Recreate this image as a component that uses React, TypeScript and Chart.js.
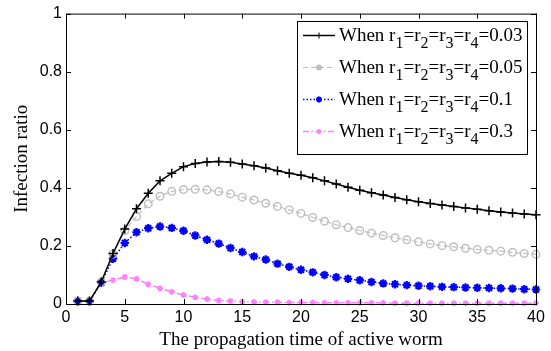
import React, { useEffect, useRef } from "react";
import { Chart, registerables } from "chart.js";

Chart.register(...registerables);

const times = [1, 2, 3, 4, 5, 6, 7, 8, 9, 10, 11, 12, 13, 14, 15, 16, 17, 18, 19, 20, 21, 22, 23, 24, 25, 26, 27, 28, 29, 30, 31, 32, 33, 34, 35, 36, 37, 38, 39, 40];

const r003 = [0.01, 0.01, 0.076, 0.174, 0.258, 0.328, 0.381, 0.424, 0.45, 0.473, 0.484, 0.489, 0.491, 0.488, 0.482, 0.476, 0.468, 0.459, 0.45, 0.443, 0.435, 0.424, 0.413, 0.402, 0.392, 0.383, 0.375, 0.367, 0.359, 0.352, 0.346, 0.341, 0.336, 0.331, 0.326, 0.321, 0.317, 0.313, 0.31, 0.307];
const r005 = [0.01, 0.01, 0.076, 0.172, 0.252, 0.301, 0.345, 0.371, 0.388, 0.394, 0.395, 0.393, 0.387, 0.379, 0.368, 0.358, 0.347, 0.336, 0.324, 0.312, 0.298, 0.285, 0.273, 0.263, 0.253, 0.244, 0.236, 0.228, 0.221, 0.214, 0.207, 0.201, 0.197, 0.192, 0.188, 0.185, 0.182, 0.178, 0.174, 0.171];
const r01 = [0.01, 0.01, 0.073, 0.156, 0.21, 0.247, 0.261, 0.267, 0.262, 0.252, 0.236, 0.221, 0.208, 0.193, 0.179, 0.164, 0.153, 0.139, 0.128, 0.118, 0.109, 0.1, 0.092, 0.087, 0.082, 0.076, 0.071, 0.068, 0.065, 0.063, 0.061, 0.059, 0.058, 0.057, 0.056, 0.055, 0.054, 0.053, 0.051, 0.05];
const r03 = [0.01, 0.01, 0.073, 0.082, 0.093, 0.087, 0.068, 0.054, 0.042, 0.031, 0.023, 0.017, 0.012, 0.01, 0.008, 0.007, 0.006, 0.006, 0.005, 0.005, 0.005, 0.004, 0.004, 0.004, 0.004, 0.004, 0.004, 0.003, 0.003, 0.003, 0.003, 0.003, 0.003, 0.003, 0.003, 0.003, 0.003, 0.003, 0.003, 0.003];

const legendValues = ["0.03", "0.05", "0.1", "0.3"];
const xTitle = "The propagation time of active worm";
const yTitle = "Infection ratio";
const xTicks = [0, 5, 10, 15, 20, 25, 30, 35, 40];
const yTicks = [0, 0.2, 0.4, 0.6, 0.8, 1];

const SERIF = "'Liberation Serif', 'Times New Roman', serif";
const SANS = "'Liberation Sans', Arial, sans-serif";

const styles = [
  { color: "#000000", dash: [] as number[], point: "cross", radius: 4.5, bw: 1.5, lw: 1.5, fill: "#000000" },
  { color: "#bebebe", dash: [5, 3], point: "circle", radius: 3.8, bw: 1.4, lw: 1.2, fill: "transparent" },
  { color: "#0000ff", dash: [1.5, 2], point: "star", radius: 4.2, bw: 2.2, lw: 1.5, fill: "#0000ff" },
  { color: "#ff80ff", dash: [6, 2.5, 1.5, 2.5], point: "star", radius: 3, bw: 1.5, lw: 1.5, fill: "#ff80ff" },
];

const seriesList = [r003, r005, r01, r03];

const framePlugin = {
  id: "frame",
  afterDatasetsDraw(chart: any) {
    const { ctx, chartArea, scales } = chart;
    const { left, right, top, bottom } = chartArea;
    ctx.save();
    ctx.strokeStyle = "#000";
    ctx.lineWidth = 1;
    ctx.setLineDash([]);
    ctx.strokeRect(left + 0.5, top + 0.5, right - left, bottom - top);
    const tl = 5;
    ctx.beginPath();
    xTicks.forEach((v) => {
      const px = Math.round(scales.x.getPixelForValue(v)) + 0.5;
      ctx.moveTo(px, bottom);
      ctx.lineTo(px, bottom - tl);
      ctx.moveTo(px, top);
      ctx.lineTo(px, top + tl);
    });
    yTicks.forEach((v) => {
      const py = Math.round(scales.y.getPixelForValue(v)) + 0.5;
      ctx.moveTo(left, py);
      ctx.lineTo(left + tl, py);
      ctx.moveTo(right, py);
      ctx.lineTo(right - tl, py);
    });
    ctx.stroke();
    ctx.restore();
  },
};

function drawMarker(ctx: CanvasRenderingContext2D, st: any, x: number, y: number, i: number) {
  ctx.save();
  ctx.setLineDash([]);
  ctx.strokeStyle = st.color;
  ctx.fillStyle = st.color;
  if (i === 0) {
    ctx.lineWidth = 1;
    ctx.beginPath();
    ctx.moveTo(x - 3, y);
    ctx.lineTo(x + 3, y);
    ctx.moveTo(x, y - 3);
    ctx.lineTo(x, y + 3);
    ctx.stroke();
  } else if (i === 1) {
    ctx.beginPath();
    ctx.arc(x, y, 3, 0, Math.PI * 2);
    ctx.fill();
  } else {
    ctx.lineWidth = i === 2 ? 2 : 1.5;
    const r = i === 2 ? 3 : 2.5;
    ctx.beginPath();
    for (let k = 0; k < 4; k++) {
      const a = (k * Math.PI) / 4;
      ctx.moveTo(x - Math.cos(a) * r, y - Math.sin(a) * r);
      ctx.lineTo(x + Math.cos(a) * r, y + Math.sin(a) * r);
    }
    ctx.stroke();
  }
  ctx.restore();
}

const legendPlugin = {
  id: "customLegend",
  afterDraw(chart: any) {
    const { ctx } = chart;
    const bx = 297, by = 21, bw = 230, bh = 133;
    ctx.save();
    ctx.fillStyle = "#fff";
    ctx.fillRect(bx, by, bw, bh);
    ctx.strokeStyle = "#000";
    ctx.lineWidth = 1;
    ctx.setLineDash([]);
    ctx.strokeRect(bx + 0.5, by + 0.5, bw, bh);
    const rowY = [35, 67, 99, 131];
    legendValues.forEach((val, i) => {
      const st = styles[i];
      const y = rowY[i];
      ctx.save();
      ctx.strokeStyle = st.color;
      ctx.lineWidth = st.lw;
      ctx.setLineDash(st.dash);
      ctx.beginPath();
      ctx.moveTo(303, y + 0.5);
      ctx.lineTo(335, y + 0.5);
      ctx.stroke();
      ctx.restore();
      drawMarker(ctx, st, 319, y + 0.5, i);
      let x = 339;
      ctx.fillStyle = "#000";
      ctx.textBaseline = "alphabetic";
      ctx.textAlign = "left";
      const mainFont = "19px " + SERIF;
      const subFont = "16px " + SERIF;
      const base = y + 6;
      const parts: [string, boolean][] = [
        ["When r", false], ["1", true], ["=r", false], ["2", true], ["=r", false], ["3", true], ["=r", false], ["4", true], ["=" + val, false],
      ];
      parts.forEach(([t, sub]) => {
        ctx.font = sub ? subFont : mainFont;
        ctx.fillText(t, x, sub ? base + 7 : base);
        x += ctx.measureText(t).width;
      });
    });
    ctx.restore();
  },
};

export default function App() {
  const ref = useRef<HTMLCanvasElement>(null);
  useEffect(() => {
    document.body.style.margin = "0";
    const canvas = ref.current!;
    const chart = new Chart(canvas, {
      type: "line",
      data: {
        datasets: seriesList.map((s, i) => ({
          label: "When r1=r2=r3=r4=" + legendValues[i],
          data: times.map((t, k) => ({ x: t, y: s[k] })),
          borderColor: styles[i].color,
          backgroundColor: styles[i].fill,
          borderWidth: styles[i].lw,
          borderDash: styles[i].dash,
          pointStyle: styles[i].point as any,
          pointRadius: styles[i].radius,
          pointBorderWidth: styles[i].bw,
          pointBorderColor: styles[i].color,
          pointBackgroundColor: styles[i].fill,
          tension: 0,
          clip: 8,
        })),
      },
      options: {
        animation: false,
        responsive: false,
        maintainAspectRatio: false,
        layout: { padding: { top: 12, right: 15, left: 0, bottom: 0 } },
        plugins: { legend: { display: false }, tooltip: { enabled: false } },
        scales: {
          x: {
            type: "linear",
            min: 0,
            max: 40,
            afterFit: (s: any) => { s.height = 47; },
            afterBuildTicks: (s: any) => { s.ticks = xTicks.map((v) => ({ value: v })); },
            grid: { display: false, drawTicks: false },
            border: { display: false },
            ticks: { color: "#000", font: { family: SANS, size: 16 }, padding: 4, maxRotation: 0 },
            title: { display: true, text: xTitle, color: "#000", font: { family: SERIF, size: 19 }, padding: { top: 1, bottom: 0 } },
          },
          y: {
            type: "linear",
            min: 0,
            max: 1,
            afterFit: (s: any) => { s.width = 66; },
            afterBuildTicks: (s: any) => { s.ticks = yTicks.map((v) => ({ value: v })); },
            grid: { display: false, drawTicks: false },
            border: { display: false },
            ticks: { color: "#000", font: { family: SANS, size: 16 }, padding: 4, callback: (v: any) => String(Math.round(Number(v) * 10) / 10) },
            title: { display: true, text: yTitle, color: "#000", font: { family: SERIF, size: 19 }, padding: { top: 11, bottom: 0 } },
          },
        },
      },
      plugins: [framePlugin, legendPlugin],
    });
    return () => chart.destroy();
  }, []);
  return (
    <div style={{ position: "absolute", left: 0, top: 0, width: 551, height: 351, background: "#fff" }}>
      <canvas ref={ref} width={551} height={351} style={{ width: 551, height: 351, display: "block" }} />
    </div>
  );
}
